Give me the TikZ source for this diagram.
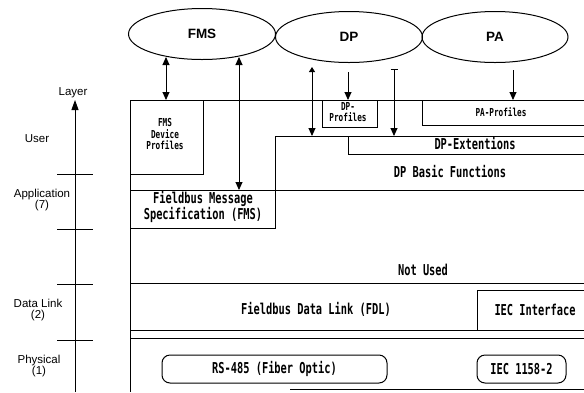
\documentclass[tikz,border=0pt]{standalone}
\usepackage{fontspec}
\setmainfont{Liberation Sans}
\newfontfamily\gfont[FakeStretch=0.69]{DejaVu Sans Mono}
\newfontfamily\sfont[FakeStretch=0.7]{DejaVu Sans Mono}
\usetikzlibrary{arrows.meta,shapes.geometric}
\begin{document}
\begin{tikzpicture}[x=1pt,y=-1pt,
  ln/.style={line width=1pt},
  ell/.style={draw,ellipse,line width=1pt,minimum width=147pt,minimum height=51pt,inner sep=0pt,font=\bfseries\fontsize{13.5}{13}\selectfont},
  big/.style={font=\gfont\bfseries\fontsize{15}{13.5}\selectfont,inner sep=0pt,align=center},
  small/.style={font=\sfont\bfseries\fontsize{11}{11.5}\selectfont,inner sep=0pt,align=center},
  side/.style={font=\fontsize{11.5}{11}\selectfont,inner sep=0pt,align=center},
  rbox/.style={draw,rounded corners=8pt,line width=1pt,inner sep=0pt,minimum height=28pt},
  arr/.style={line width=0.9pt,-{Triangle[length=8pt,width=7pt]}},
  darr/.style={line width=0.9pt,{Triangle[length=8pt,width=7pt]}-{Triangle[length=8pt,width=7pt]}},
  barr/.style={line width=0.9pt,{Bar[width=7pt]}-{Triangle[length=8pt,width=7pt]}}
]
\useasboundingbox (0,0) rectangle (584,392);
\clip (0,0) rectangle (584,392);

% ellipses
\node[ell] (fms) at (202,34) {FMS};
\node[ell] (dp) at (349,37) {DP};
\node[ell,minimum width=146pt] (pa) at (495,37) {PA};

% layer axis
\coordinate (axb) at (75,392);
\coordinate (axt) at (75,100);
\draw[line width=1pt,-{Triangle[length=10pt,width=7pt]}] (axb) -- (axt);
\foreach \y in {174,229,284,340} \draw[line width=1pt] (57,\y) -- (93,\y);
\node[side] (layer) at (73,93) {Layer};
\node[side] (user) at (37,139) {User};
\node[side] (app) at (42,200) {Application\\(7)};
\node[side] (dl) at (38,310) {Data Link\\(2)};
\node[side] (phy) at (39,366) {Physical\\(1)};

% frame lines
\draw[ln] (584,100) -- (130,100) -- (130,392);
\draw[ln] (130,100) rectangle (203,174);
\draw[ln] (584,136) -- (275,136) -- (275,228) -- (130,228);
\draw[ln] (130,190) -- (584,190);
\draw[ln] (322,100) rectangle (377,127);
\draw[ln] (422,100) -- (422,125) -- (584,125);
\draw[ln] (348,136) -- (348,154) -- (584,154);
\draw[ln] (130,283) -- (584,283);
\draw[ln] (584,290) -- (477,290) -- (477,330);
\draw[ln] (130,330) -- (584,330);
\draw[ln] (130,338) -- (584,338);
\draw[ln] (290,389) -- (584,389);

% texts
\node[small] (fmsdev) at (165,134) {FMS\\Device\\Profiles};
\node[small] (dpprof) at (348,112) {DP-\\Profiles};
\node[small] (paprof) at (501,112) {PA-Profiles};
\node[big] (dpext) at (475,144) {DP-Extentions};
\node[big] (dpbasic) at (450,172) {DP Basic Functions};
\node[big] (fmsspec) at (203,207) {Fieldbus Message\\Specification (FMS)};
\node[big] (notused) at (423,270) {Not Used};
\node[big] (fdl) at (316,309) {Fieldbus Data Link (FDL)};
\node[big] (iecif) at (535,310) {IEC Interface};
\node[rbox,minimum width=225pt] (rs) at (274.5,369) {};
\node[big] at (rs.center) {RS-485 (Fiber Optic)};
\node[rbox,minimum width=89pt] (iec) at (521.5,369) {};
\node[big] at (iec.center) {IEC 1158-2};

% connectors
\coordinate (a1t) at (166,57); \coordinate (a1b) at (166,100);
\coordinate (a2t) at (239,57); \coordinate (a2b) at (239,190);
\coordinate (a3t) at (312,67); \coordinate (a3b) at (312,136);
\coordinate (a4t) at (348,72); \coordinate (a4b) at (348,100);
\coordinate (a5t) at (394,69); \coordinate (a5b) at (394,136);
\coordinate (a6t) at (513,70); \coordinate (a6b) at (513,100);
\draw[darr] (a1t) -- (a1b);
\draw[darr] (a2t) -- (a2b);
\draw[line width=0.9pt,{Triangle[length=5pt,width=6pt]}-{Triangle[length=8pt,width=7pt]}] (a3t) -- (a3b);
\draw[arr] (a4t) -- (a4b);
\draw[barr] (a5t) -- (a5b);
\draw[arr] (a6t) -- (a6b);
\end{tikzpicture}
\end{document}
